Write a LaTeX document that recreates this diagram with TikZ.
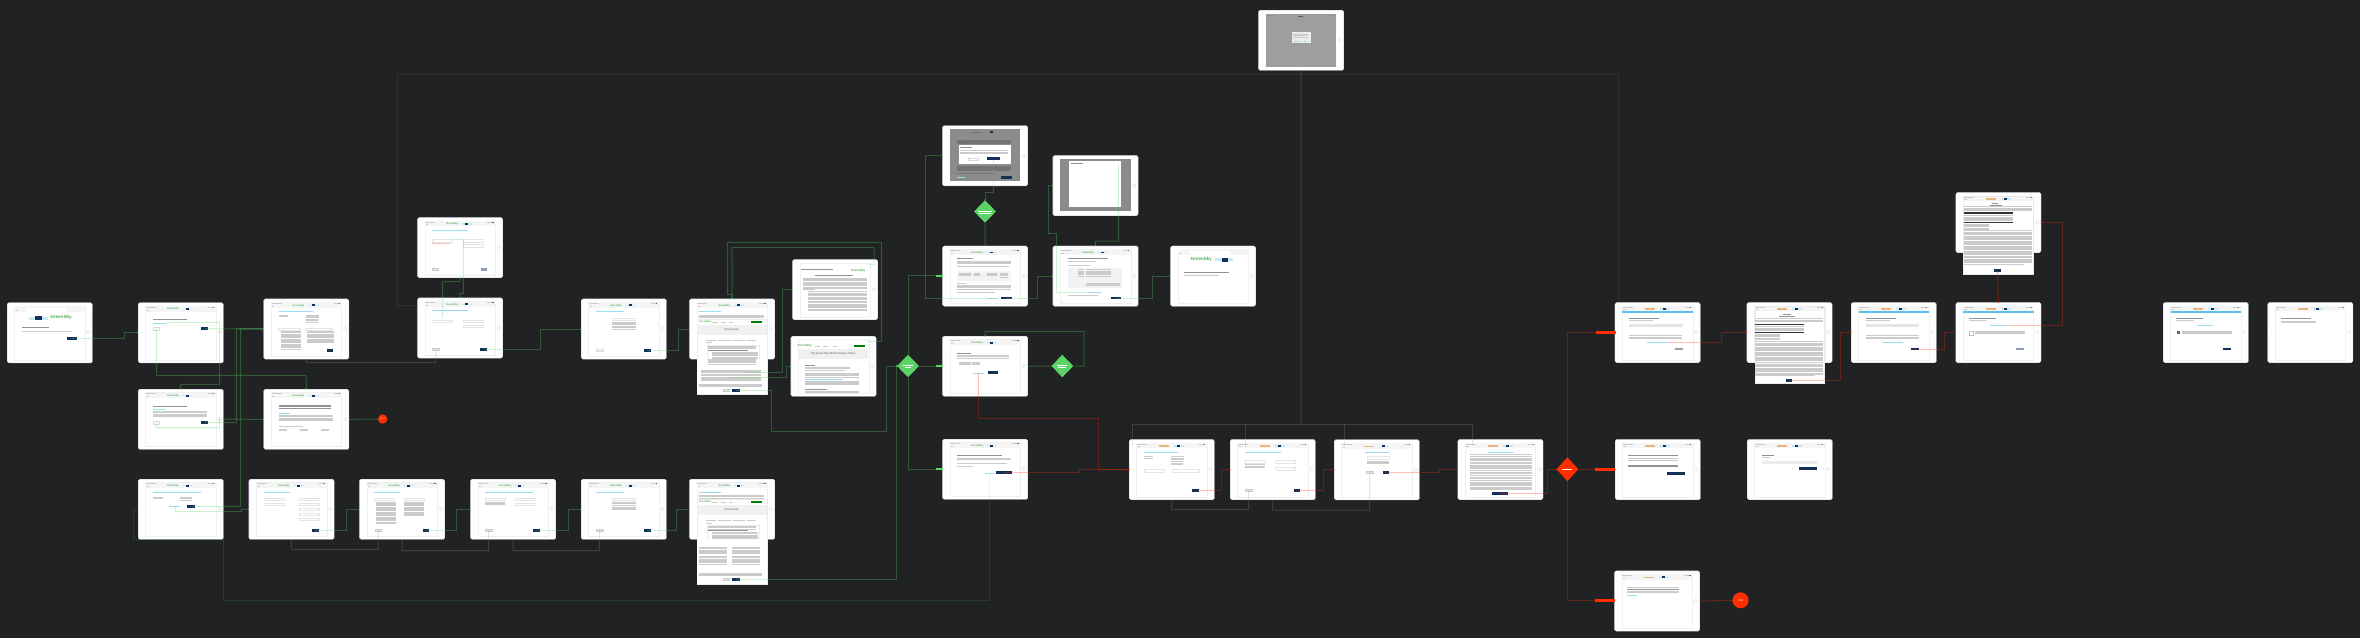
\documentclass[tikz,border=0pt]{standalone}
\usepackage{fontspec}
\setmainfont{Liberation Sans}
\usetikzlibrary{shapes.geometric}
\definecolor{bgc}{HTML}{202224}
\definecolor{gcol}{HTML}{5AD364}
\definecolor{rcol}{HTML}{FF2D00}
\definecolor{navy}{HTML}{12305A}
\definecolor{cyn}{HTML}{9ADCF4}
\definecolor{skyb}{HTML}{5BC0EB}
\definecolor{txtc}{HTML}{CBCBCB}
\definecolor{txtd}{HTML}{929292}
\definecolor{slate}{HTML}{8D9FB8}
\definecolor{gsk}{HTML}{4CAF50}
\definecolor{orng}{HTML}{EDB47A}
\tikzset{
  device/.style={rectangle,fill=white,draw=black!25,line width=.3pt,rounded corners=1.6pt,minimum width=85.3pt,minimum height=60.3pt,inner sep=0pt},
  txt/.style={fill=txtc}, dark/.style={fill=txtd}, cy/.style={fill=cyn}, pnk/.style={fill=red!25}, blk/.style={fill=black!80},
  navybtn/.style={rectangle,fill=navy,inner sep=0pt,minimum height=2.7pt},
  slatebtn/.style={rectangle,fill=slate,inner sep=0pt,minimum height=2.7pt},
  greybtn/.style={rectangle,fill=black!10,draw=black!20,line width=.2pt,inner sep=0pt,minimum height=2.4pt},
  outbtn/.style={rectangle,fill=white,draw=black!15,line width=.2pt,inner sep=0pt,minimum height=2.4pt},
  inbox/.style={draw=black!10,line width=.25pt,fill=white},
  gl/.style={draw=gcol,draw opacity=.3,line width=1pt},
  rl/.style={draw=rcol,draw opacity=.3,line width=1pt},
  gyl/.style={draw=black!40,draw opacity=.25,line width=1pt},
  faint/.style={draw=black!40,draw opacity=.12,line width=.7pt},
  thing/.style={draw=gcol,draw opacity=.15,line width=.6pt},
  gdot/.style={fill=gcol}, rdot/.style={fill=rcol},
  gdia/.style={diamond,fill=gcol,inner sep=0pt,minimum width=22pt,minimum height=22.6pt},
  rdia/.style={diamond,fill=rcol,inner sep=0pt,minimum width=22pt,minimum height=24pt},
  gpill/.style={rectangle,fill=gcol,inner sep=0pt,minimum width=6.8pt,minimum height=2.2pt},
  rpill/.style={rectangle,fill=rcol,inner sep=0pt,minimum width=20pt,minimum height=2.8pt},
  endc/.style={circle,fill=rcol,inner sep=0pt,text=white},
  logot/.style={inner sep=0pt,text=gsk,font=\bfseries\fontsize{2.5}{3}\selectfont},
}
\newcommand\tb[4][txt]{\fill[#1] (#2,#3) rectangle ++(#4,.5);}
\newcommand\tp[5][txt]{\foreach \i in {1,...,#5}{\fill[#1] (#2,{#3+(\i-1)*1.25}) rectangle ++(#4,.5);}}
\newcommand\ib[3]{\draw[inbox] (#1,#2) rectangle ++(#3,2.5);}
\newcommand\btn[5]{\node[#5,minimum width=#4 pt] (#1) at (#2,#3) {};}
\newcommand\partner{\fill[cyn!60] (45,6) rectangle (55,7.4);\fill[navy] (48,5.7) rectangle (51,7.6);}
\newcommand\chromebase{%
  \draw[black!6,line width=.4pt,fill=white] (7.5,3.5) rectangle (78,57.5);
  \fill[black!4] (7.5,3.5) rectangle (78,9);
  \fill[txtc] (8,4.2) rectangle ++(10,.5);\fill[txtc] (70,4.2) rectangle ++(6,.5);\fill[black!60] (75,4.2) rectangle ++(1.4,.5);
  \fill[txtc] (8.5,7) rectangle ++(2.4,.6);
  \draw[black!15,line width=.3pt] (81.6,30) circle (1.8);
  \fill[black!15] (3.4,30) circle (.4);}
\newcommand\dev[4]{\node[device,anchor=north west] (#1) at (#2,#3) {};
  \begin{scope}[shift={(#2,#3)}]\chromebase
  \node[logot] (#1g) at (35,6.7) {GreenSky};\partner
  #4\end{scope}}
\newcommand\devo[4]{\node[device,anchor=north west] (#1) at (#2,#3) {};
  \begin{scope}[shift={(#2,#3)}]\chromebase
  \fill[orng] (30,6.1) rectangle (40,7.3);\partner
  #4\end{scope}}
\newcommand\gcon[2]{\draw[gl] #1 #2;\fill[gdot] #2 circle (.7);}
\newcommand\rcon[2]{\draw[rl] #1 #2;\fill[rdot] #2 circle (.7);}
\newcommand\discl[2]{%
  \fill[white] (7.4,20) rectangle (77.4,#1);
  \draw[black!8,line width=.2pt] (7.4,20) rectangle (77.4,#1);
  \node[logot] (#2k) at (16,23) {GreenSky};
  \tb{23}{23}{6}\tb{32}{23}{5}\tb{40}{23}{4}
  \fill[green!50!black] (62,22.3) rectangle (73,24.4);
  \fill[black!6] (7.4,26) rectangle (77.4,36);
  \node[inner sep=0pt,text=black!65,font=\fontsize{2.7}{3}\selectfont] (#2t) at (42.4,31) {Disclosures};
  \tb{17}{41}{10}\tb{29}{41}{13}\tb{44}{41}{12}\tb{58}{41}{9}\tb{17}{43.5}{6}
  \draw[black!8,line width=.2pt] (18,46) rectangle (70,60);
  \tp{19}{47}{48}{3}\tp[dark]{19}{51}{40}{1}\tp{23}{53}{46}{6}}
\begin{document}
\begin{tikzpicture}[x=1pt,y=-1pt]
\useasboundingbox (0,0) rectangle (2360,638);
\fill[bgc] (0,0) rectangle (2360,638);

% ---- row screens (left part)
\dev{d1}{7}{302.5}{\fill[white] (20,4.8) rectangle (60,9);\fill[black!4] (7.5,3.5) rectangle (78,5.2);
  \fill[cyn!60] (22,14) rectangle (41,17);\fill[navy] (28,13.5) rectangle (35,17.5);
  \node[logot,font=\bfseries\fontsize{4.6}{5}\selectfont] (d1g2) at (54,15.3) {GreenSky};
  \tb[dark]{15.3}{24}{27}\tb{15.3}{28.4}{50}\btn{d1b}{65}{35.8}{10}{navybtn}}
\dev{d2}{138}{302.5}{\tb[dark]{15}{16.5}{34}\tb[cy]{15}{20}{13}
  \btn{d2n}{18.3}{26.2}{6}{outbtn}\btn{d2b}{66.7}{26.2}{6.5}{navybtn}\coordinate (d2l) at (28,20);}
\dev{d3}{263.5}{298.7}{\tb[cy]{15}{12.3}{34}\tp{15}{16}{9}{2}\tp{42}{16}{13}{3}\tp{42}{20.5}{12}{3}
  \ib{15}{29}{22}\ib{42}{29}{27}\tp{17.5}{32.5}{20}{15}\tp{43}{32.5}{27}{10}
  \btn{d3b}{66.7}{51.7}{6.5}{navybtn}}
\dev{d4}{138}{389}{\tb[dark]{15}{16.5}{34}\tb[cy]{15}{20}{13}\tp{15}{22}{54}{5}
  \btn{d4n}{18.3}{33.7}{6}{outbtn}\btn{d4b}{66.7}{33.7}{6.5}{navybtn}}
\dev{d5}{263.5}{389}{\tp[dark]{15}{16}{52}{3}\tb[cy]{15}{24}{11}\tp{15}{26}{54}{5}\tb{15}{37}{24}
  \tp{15}{40}{8}{2}\tp{36}{40}{8}{2}\tp{57}{40}{8}{2}}
\dev{d6}{138}{479}{\tb[cy]{15}{12.5}{48}\tp{15}{18}{10}{2}\tp{42}{18}{12}{3}\tb[cy]{31}{27}{11}
  \btn{d6b}{53.3}{27.3}{8}{navybtn}\coordinate (d6l) at (37.7,27.3);}
\dev{d7}{248.7}{479}{\tb[cy]{15}{12.5}{26}\ib{15}{19}{20}\ib{15}{24}{20}
  \ib{50}{19}{20}\ib{50}{24}{20}\ib{50}{29}{20}\ib{50}{34}{20}\ib{50}{39}{20}
  \btn{d7b}{66.6}{51.7}{6.5}{navybtn}}
\dev{d8}{359.3}{479}{\tb[cy]{15}{12.5}{26}\ib{15}{19}{20}\ib{45}{19}{20}\tp{17}{22.5}{20}{18}\tp{45}{22.5}{20}{12}
  \btn{d8k}{18.7}{51.3}{6.5}{greybtn}\btn{d8b}{66.7}{51.7}{6.5}{navybtn}}
\dev{d9}{470.3}{479}{\tb[cy]{15}{12.5}{48}\ib{15}{19}{20}\tp{15}{22.5}{20}{3}\ib{45}{19}{20}\ib{45}{24}{20}
  \btn{d9k}{18.4}{51.3}{6.5}{greybtn}\btn{d9b}{66.4}{51.7}{6.5}{navybtn}}
\dev{d16}{581}{479}{\tb[cy]{15}{12.5}{28}\ib{31}{19}{23}\tp{31}{23}{24}{3}\tp{31}{27.5}{24}{3}
  \btn{d16k}{18.4}{51.3}{6.5}{greybtn}\btn{d16b}{66.3}{51.7}{6.5}{navybtn}}
\dev{d10}{417.3}{217.3}{\tb[cy]{15}{12.5}{36}\ib{15}{22}{20}\tb[pnk]{15}{25.6}{18}\ib{46}{22}{20}\ib{46}{27}{20}
  \btn{d10k}{18}{52}{6.5}{greybtn}\btn{d10b}{66.7}{52}{6.5}{slatebtn}\coordinate (d10l) at (35.4,22);}
\dev{d11}{417.3}{297.7}{\tb[cy]{15}{12.5}{36}\ib{15}{22}{20}\ib{46}{22}{20}\ib{46}{27}{20}
  \btn{d11k}{18.4}{51.6}{6.5}{greybtn}\btn{d11b}{66.4}{52}{6.5}{navybtn}\coordinate (d11l) at (25.4,20.6);\coordinate (d11h) at (7.7,7.6);}
\dev{d12}{581}{298.7}{\tb[cy]{15}{12.5}{28}\ib{31}{19}{23}\tp{31}{23}{24}{3}\tp{31}{27.5}{24}{3}
  \btn{d12k}{18.4}{51.6}{6.5}{outbtn}\btn{d12b}{66.3}{51.6}{6.5}{navybtn}}

% disclosure pages
\dev{d13}{689.3}{298.7}{\tb[cy]{10}{12.5}{22}\tp{10}{16}{65}{3}\discl{95.3}{d13d}
  \fill[white] (7.4,60) rectangle (77.4,95.3);\tp{19}{60}{48}{5}
  \tp{12}{71}{60}{3}\tp{12}{75.5}{60}{6}\tp{10}{85}{63}{3}
  \btn{d13k}{37}{91.6}{6.5}{greybtn}\btn{d13b}{46.7}{91.6}{8}{navybtn}
  \coordinate (d13l) at (57.4,73.6);\coordinate (d13m) at (37.4,78.6);}
\dev{d17}{689.3}{479}{\tb[cy]{10}{12.5}{22}\tp{10}{16}{65}{3}\discl{105}{d17d}
  \fill[white] (7.4,60) rectangle (77.4,105);
  \tp{10}{68}{28}{6}\tp{43}{68}{28}{6}\tp{10}{77}{28}{7}\tp{43}{77}{28}{7}\tp{10}{93.6}{63}{3}
  \btn{d17k}{37}{100.3}{6.5}{greybtn}\btn{d17b}{46.7}{100.3}{8}{navybtn}}
\node[device,anchor=north west] (d14) at (792.3,259.3) {};
\begin{scope}[shift={(792.3,259.3)}]
  \draw[black!6,line width=.4pt] (7.5,3.5) rectangle (78,57.5);\draw[black!15,line width=.3pt] (81.6,30) circle (1.8);
  \tb[dark]{9}{10}{32}\node[logot,font=\bfseries\fontsize{3}{3}\selectfont] (d14g) at (66,11) {GreenSky};
  \tb[dark]{23}{15.6}{38}\tp{11}{18.5}{64}{9}\tb{11}{30}{12}\tp{16}{32}{59}{4}\tp{16}{37.5}{59}{4}\tp{16}{43}{59}{7}
  \coordinate (d14x) at (75.7,5);
\end{scope}
\node[device,anchor=north west] (d15) at (790.7,336) {};
\begin{scope}[shift={(790.7,336)}]
  \draw[black!6,line width=.4pt] (7.5,3.5) rectangle (78,57.5);\draw[black!15,line width=.3pt] (81.6,30) circle (1.8);
  \node[logot,font=\bfseries\fontsize{3}{3}\selectfont] (d15g) at (14,10) {GreenSky};
  \tb{24}{10}{5}\tb{32}{10}{5}\tb{42}{10}{4}\fill[green!50!black] (63,9) rectangle (74,11.2);
  \fill[black!6] (8,13) rectangle (77,23);
  \node[inner sep=0pt,text=black!65,font=\fontsize{2.8}{3}\selectfont] (d15t) at (42.5,18) {The GreenSky Online Privacy Policy};
  \tb[dark]{14.5}{28.6}{10}\tp{14.5}{31}{45}{2}\tb{14.5}{34}{40}\tp{14.5}{36.5}{54}{3}\tp{14.5}{41}{54}{1}\tp[cy]{14.5}{43}{38}{1}\tp{14.5}{44.5}{54}{4}\tb[dark]{14.5}{52.5}{22}\tp{14.5}{54.5}{54}{2}
  \coordinate (d15x) at (76,5.3);
\end{scope}

% overlays
\node[device,anchor=north west] (d18) at (942.3,125.4) {};
\begin{scope}[shift={(942.3,125.4)}]
  \fill[black!45] (7.5,3.5) rectangle (78,55.5);\draw[black!15,line width=.3pt] (81.6,30) circle (1.8);
  \fill[black!55] (30,6.1) rectangle (40,7.3);\fill[navy] (48,5.6) rectangle (51,7.8);
  \tb[dark]{15}{12}{15}\fill[black!55] (15,15) rectangle (69,18.2);
  \fill[white] (16.7,19.2) rectangle (69,38.4);
  \tb[dark]{18}{21.4}{12}\tp{18}{25}{48}{3}
  \btn{d18k}{30.5}{33.5}{10}{outbtn}\btn{d18b}{51.5}{33.2}{13}{navybtn}
  \fill[black!55] (15,41) rectangle (69,45.4);\fill[black!55] (15,47.5) rectangle (53,48);\tb[cy]{15}{52}{8}\btn{d18c}{64}{52}{11}{navybtn}
\end{scope}
\node[device,anchor=north west] (d19) at (1052.7,155.3) {};
\begin{scope}[shift={(1052.7,155.3)}]
  \fill[black!45] (7.5,3.5) rectangle (78,55.5);\draw[black!15,line width=.3pt] (81.6,30) circle (1.8);
  \fill[white] (16.3,5.5) rectangle (68.7,52);
  \tb[dark]{18}{8}{12}\coordinate (d19x) at (65.6,8.5);
\end{scope}
\dev{d20}{942.3}{245.8}{\tb[dark]{15}{12}{16}\tp{15}{15}{54}{3}\tb{15}{20.5}{52}
  \fill[black!5] (15,25) rectangle (69,35);\tp{17}{27}{12}{3}\tp{32}{27}{6}{3}\tp{45}{27}{10}{3}\tp{58}{27}{8}{4}
  \tb{15}{37}{9}\tp{15}{39}{54}{4}\tb{15}{46.5}{38}\tb[cy]{46}{51.8}{10}
  \btn{d20b}{64}{52.2}{11}{navybtn}\coordinate (d20l) at (51,52.2);}
\dev{d21}{1052.7}{245.8}{\tb[dark]{15}{12}{40}\tb{15}{15}{28}\tb{15}{19}{22}
  \fill[black!5] (15,22) rectangle (69,42);\tp{25}{23.5}{6}{6}\tp{33}{23.5}{25}{6}\tp{33}{37}{34}{3}
  \tb[cy]{36}{46.4}{12}\tb{15}{49.5}{30}\btn{d21b}{63.6}{52.2}{10}{navybtn}\coordinate (d21l) at (36.3,46.7);}
\dev{d22}{1170.3}{245.8}{\fill[white] (20,4.8) rectangle (60,9);\fill[black!4] (7.5,3.5) rectangle (78,5.2);
  \node[logot,font=\bfseries\fontsize{4.6}{5}\selectfont] (d22g2) at (31,14) {GreenSky};
  \fill[cyn!60] (45,12.5) rectangle (63,15.5);\fill[navy] (52,12) rectangle (58,16);
  \tb[dark]{13.5}{26}{45}\tb{13.5}{29}{35}}
\dev{d23}{942.3}{336}{\tb[dark]{15}{16.5}{14}\tp{15}{19}{52}{3}\tp{17}{25.5}{12}{3}\tp{30}{25.5}{8}{3}
  \tb[cy]{31}{36.5}{11}\btn{d23b}{51}{36.8}{10}{navybtn}\coordinate (d23l) at (36.4,36.8);}
\dev{d24}{942.3}{439}{\tb[dark]{15}{16}{45}\tp{15}{19}{54}{2}\tb{15}{24}{50}\tb{15}{27}{16}
  \tb[cy]{43}{33.7}{9}\btn{d24b}{61.7}{33.3}{16}{navybtn}\coordinate (d24l) at (47,34);}

% orange screens
\devo{d25}{1129}{439.3}{\tb[cy]{15}{12.5}{34}\tp{15}{17}{9}{2}\tp{42}{17}{13}{3}\tp{42}{22}{12}{3}
  \ib{15}{30}{20}\ib{43}{30}{27}\btn{d25b}{66.5}{51}{6.5}{navybtn}}
\devo{d26}{1230}{439.3}{\tb[cy]{15}{12.5}{36}\ib{15}{21}{20}\tp{15}{25}{20}{3}\ib{45}{21}{20}\ib{45}{28}{20}
  \btn{d26k}{18.7}{51}{6.5}{greybtn}\btn{d26b}{66.9}{51}{6.5}{navybtn}}
\devo{d27}{1334}{439.5}{\tb[cy]{31}{12.5}{24}\ib{33}{17}{22}\tp{33}{21}{22}{3}
  \btn{d27k}{35.6}{32.8}{6.5}{greybtn}\btn{d27b}{52}{32.8}{6.5}{navybtn}}
\devo{d28}{1457.6}{439.3}{\tb[cy]{30}{12.5}{26}\tp{12}{15}{62}{2}\tp{12}{18.5}{62}{4}\tp{12}{24}{62}{5}\tp{12}{31}{62}{3}\tp{12}{36}{62}{3}\tp{12}{41}{62}{8}
  \btn{d28b}{42}{54}{16}{navybtn}}
\devo{d29}{1615}{439.3}{\tb[dark]{13}{16}{50}\tp{13}{19}{50}{2}\tp[dark]{13}{25.5}{50}{2}\btn{d29b}{60.5}{34}{18}{navybtn}}
\devo{d30}{1747}{439.3}{\tb[dark]{15}{16}{12}\tb{15}{18}{8}\fill[black!8] (15,21.5) rectangle (70,24.5);\btn{d30b}{60.5}{29}{18}{navybtn}}
\devo{d31}{1614.3}{570.7}{\tb{13}{16}{52}\tb[dark]{13}{18}{52}\tp{13}{20.2}{52}{2}\tb[cy]{13}{24.5}{10}}
\newcommand\band{\fill[skyb] (7.5,9) rectangle (78,11);}
\devo{d32}{1614.8}{302.3}{\band\tb[dark]{14.5}{16}{30}\tb{14.5}{18}{24}\fill[black!10] (14.5,21.5) rectangle (68,25);\tb{14.5}{33}{53}\tp{14.5}{34.2}{53}{2}\tb[cy]{32}{39.6}{20}
  \btn{d32b}{64}{46.7}{8}{slatebtn}\coordinate (d32l) at (52.2,39.7);\coordinate (d32h) at (9.2,6.7);}
\devo{d33}{1746.7}{302.3}{\fill[white] (7.9,55) rectangle (77.6,81);\draw[black!8,line width=.2pt] (7.9,3.5) rectangle (77.6,81);
  \tb[dark]{36}{12}{8}\tb[dark]{32}{14}{16}\tp{8}{16}{68}{3}\fill[black!80] (8,21.3) rectangle (57,23);\tp{8}{24}{49}{4}\fill[black!80] (8,29.6) rectangle (57,31);\tp{8}{31.6}{25}{5}\tp{8}{39}{68}{3}\tp{8}{43}{68}{14}\tp{8}{61.5}{68}{9}\tb{8}{73}{60}
  \btn{d33b}{42.3}{78}{6.5}{navybtn}}
\devo{d34}{1851}{302.3}{\band\tb[dark]{14.5}{16}{30}\tb{14.5}{18}{24}\fill[black!10] (14.5,21.5) rectangle (68,25);\tb{14.5}{33}{53}\tp{14.5}{34.2}{53}{2}\tb[cy]{32}{39.6}{20}
  \btn{d34b}{63.8}{46.7}{8}{navybtn}}
\devo{d35}{1955.6}{302.3}{\band\tb[dark]{13}{16}{27}\tb{13}{18}{18}\tb[cy]{34}{22.7}{16}\draw[black!25,line width=.3pt] (14,28.5) rectangle (17.5,32.5);\tp{19}{28.5}{50}{3}
  \btn{d35b}{64}{46.7}{8}{slatebtn}\coordinate (d35l) at (49.8,23);}
\devo{d36}{1955.6}{192.3}{\fill[white] (7.5,55) rectangle (77.3,81.4);\draw[black!8,line width=.2pt] (7.5,3.5) rectangle (77.3,81.4);
  \tb[dark]{36}{11}{6}\tb[dark]{34}{12.6}{12}\tp{8}{14}{68}{4}\fill[black!80] (8,20) rectangle (57,22);\tp{8}{23}{49}{5}\fill[black!80] (8,29.5) rectangle (57,31);\tp{8}{31.5}{25}{5}\tp{8}{38}{68}{3}\tp{8}{42}{68}{18}\tp{8}{65}{68}{5}\tb{8}{72}{60}
  \btn{d36b}{42}{78.4}{6.5}{navybtn}}
\devo{d37}{2163}{302.3}{\band\tb[dark]{13}{16}{27}\tb{13}{18}{18}\tb[cy]{34}{22.7}{16}\fill[black!60] (14,28.5) rectangle (17,32);\tp{19}{28.5}{50}{3}
  \btn{d37b}{64}{46.7}{8}{navybtn}}
\devo{d38}{2267.5}{302.3}{\tb[dark]{13}{16}{30}\tp{13}{18.6}{35}{2}}
\node[device,anchor=north west] (d0) at (1258.3,10) {};
\begin{scope}[shift={(1258.3,10)}]
  \fill[black!38] (7.5,4) rectangle (78,56.7);\draw[black!15,line width=.3pt] (81.6,30) circle (1.8);
  \fill[black!65] (40,5.8) rectangle (45,7.4);\tb[dark]{8}{4.6}{10}\tb[dark]{70}{4.6}{6}
  \fill[white!92!black] (33.4,22) rectangle (52.4,32.7);\tp{35}{24}{15}{3}\tb[cy]{36}{30.8}{5}\tb[cy]{46}{30.8}{2}
\end{scope}

% ---- decision nodes, terminals, pills
\node[gdia] (g1) at (908,366) {};
\node[gdia] (g2) at (985,211.5) {};
\node[gdia] (g3) at (1062.3,366) {};
\node[rdia] (r1) at (1567.4,469.2) {};
\fill[white] (903,365.3) rectangle ++(10,.5);\fill[white] (905,367) rectangle ++(6,.5);
\fill[white] (978,210.8) rectangle ++(14,.5);\fill[white] (979,212.5) rectangle ++(12,.5);
\fill[white] (1057.3,365.3) rectangle ++(10,.5);\fill[white] (1058.3,367) rectangle ++(8,.5);
\fill[white] (1562.4,468.9) rectangle ++(10,.5);
\node[gpill] (p1) at (939.3,275.9) {};
\node[gpill] (p2) at (939.3,366) {};
\node[gpill] (p3) at (939.3,469.2) {};
\node[rpill] (p4) at (1605,469.2) {};
\node[rpill] (p5) at (1605,600.3) {};
\node[rpill] (p6) at (1606,332.3) {};
\node[endc,minimum size=9.4pt,font=\fontsize{2.2}{3}\selectfont] (e1) at (382.7,419) {End};
\node[endc,minimum size=16pt,font=\fontsize{2.6}{3}\selectfont] (e2) at (1740.6,600.3) {End};
\coordinate (d4top) at (180.3,389);

% ---- green connectors
\gcon{(d1b.center) -- (124.7,338.3) |-}{(d2.west)}
\gcon{(d2b.center) --}{(d3.west)}
\gcon{(d2l) -- (219.7,322.3) -- (219.7,384.3) -- (180.3,384.3) --}{(d4top)}
\gcon{(d2n.center) -- (156.3,375.3) -- (306.15,375.3) --}{(d5.north)}
\gcon{(d4n.center) -- (156.3,427.7) -- (219.7,427.7) -- (219.7,419.15) --}{(d5.west)}
\gcon{(d4b.center) -- (236.3,422.7) -- (236.3,328.85) --}{(d3.west)}
\gcon{(d6b.center) -- (240.7,506.3) -- (240.7,328.85) --}{(d3.west)}
\gcon{(d6l) -- (175.7,511.7) -- (241.5,511.7) -- (241.5,509.15) --}{(d7.west)}
\gcon{(d7b.center) -- (346,530.7) |-}{(d8.west)}
\gcon{(d8b.center) -- (456.7,530.7) |-}{(d9.west)}
\gcon{(d9b.center) -- (568.3,530.7) |-}{(d16.west)}
\gcon{(d16b.center) -- (676.3,530.7) |-}{(d17.west)}
\draw[gl] (d5.east) -- (e1.west);
\gcon{(d17b.center) -- (896.7,579.3) |-}{(g1.west)}
\gcon{(d13b.center) -- (771,390.3) -- (771,431) -- (886.7,431) |-}{(g1.west)}
\gcon{(d11b.center) -- (540.7,349.7) |-}{(d12.west)}
\gcon{(d12b.center) -- (678.3,350.3) |-}{(d13.west)}
\gcon{(d13l) -- (782.3,372.3) |-}{(d14.west)}
\gcon{(d13m) -- (786.7,377.3) |-}{(d15.west)}
\gcon{(d14x) -- (874,264.3) -- (874,247.3) -- (731.95,247.3) --}{(d13.north)}
\gcon{(d15x) -- (881.7,341.3) -- (881.7,242.3) -- (727.7,242.3) -- (727.7,294.3) -- (731.95,294.3) --}{(d13.north)}
\gcon{(d11l) -- (442.7,281.7) -- (459.95,281.7) --}{(d10.south)}
\gcon{(d10l) -- (463.3,239.3) -- (463.3,293.3) -- (459.95,293.3) --}{(d11.north)}
\draw[gl] (g1.north) |- (p1.west);\gcon{(p1.east) --}{(d20.west)}
\draw[gl] (g1.east) -- (p2.west);\gcon{(p2.east) --}{(d23.west)}
\draw[gl] (g1.south) |- (p3.west);\gcon{(p3.east) --}{(d24.west)}
\draw[gl] (g2.south) -- (d20.north);
\gcon{(d18b.center) -- (993.8,192) -- (985,192) --}{(g2.north)}
\gcon{(d20b.center) -- (1037,298) |-}{(d21.west)}
\gcon{(d20l) -- (925.7,298) |-}{(d18.west)}
\gcon{(d21b.center) -- (1152.3,298) |-}{(d22.west)}
\gcon{(d21l) -- (1056.3,292.5) -- (1056.3,233.8) -- (1048.3,233.8) |-}{(d19.west)}
\gcon{(d19x) -- (1118.3,241) -- (1095.35,241) --}{(d21.north)}
\draw[gl] (d23.east) -- (g3.west);
\gcon{(g3.east) -- (1084,366) -- (1084,331.6) -- (985,331.6) --}{(d23.north)}
\draw[thing] (d24l) -- (989.3,600.3) -- (223.3,600.3) -- (223.3,539.3) -- (133.3,539.3) |- (d6.west);

% ---- grey connectors
\draw[faint] (d32h) -- (1618.3,309) -- (1618.3,74) -- (397.7,74) -- (397.7,305.3) -- (d11h);
\coordinate (fan) at (1301,424.3);
\coordinate (f1) at (1132,445);\coordinate (f2) at (1245,448);\coordinate (f3) at (1344.6,445);\coordinate (f4) at (1472.8,445);
\draw[gyl] (d0.south) -- (fan);
\draw[gyl] (f1) -- (1132,424.3) -- (1472.8,424.3) -- (f4);
\draw[gyl] (f2) -- (1245,424.3);\draw[gyl] (f3) -- (1344.6,424.3);
\draw[gyl] (d3.south) -- (306.15,362.7) -- (435.7,362.7) -- (d11k.center);
\draw[gyl] (d7.south) -- (291.35,549.3) -- (378,549.3) -- (d8k.center);
\draw[gyl] (d8.south) -- (401.95,550.7) -- (488.7,550.7) -- (d9k.center);
\draw[gyl] (d9.south) -- (512.95,550.7) -- (599.4,550.7) -- (d16k.center);
\draw[gyl] (d25.south) -- (1171.65,509.3) -- (1248.7,509.3) -- (d26k.center);
\draw[gyl] (d26.south) -- (1272.65,510) -- (1369.6,510) -- (d27k.center);

% ---- red connectors
\rcon{(d23l) -- (978.7,418.5) -- (1098.7,418.5) |-}{(d25.west)}
\rcon{(d24b.center) -- (1079,472.3) |-}{(d25.west)}
\rcon{(d25b.center) -- (1221.9,490.3) |-}{(d26.west)}
\rcon{(d26b.center) -- (1323.7,490.3) |-}{(d27.west)}
\rcon{(d27b.center) -- (1439.3,472.3) |-}{(d28.west)}
\rcon{(d28b.center) -- (1547.8,493.3) |-}{(r1.west)}
\draw[rl] (r1.east) -- (p4.west);\rcon{(p4.east) --}{(d29.west)}
\draw[rl] (r1.south) |- (p5.west);\rcon{(p5.east) --}{(d31.west)}
\draw[rl] (r1.north) |- (p6.west);\rcon{(p6.east) --}{(d32.west)}
\rcon{(d31.east) --}{(e2.west)}
\rcon{(d32l) -- (1721.8,342) |-}{(d33.west)}
\rcon{(d33b.center) -- (1840.7,380.3) |-}{(d34.west)}
\rcon{(d34b.center) -- (1944.7,349) |-}{(d35.west)}
\rcon{(d35l) -- (2062.6,325.3) |-}{(d36.east)}
\rcon{(d36b.center) --}{(d35.north)}
\end{tikzpicture}
\end{document}
